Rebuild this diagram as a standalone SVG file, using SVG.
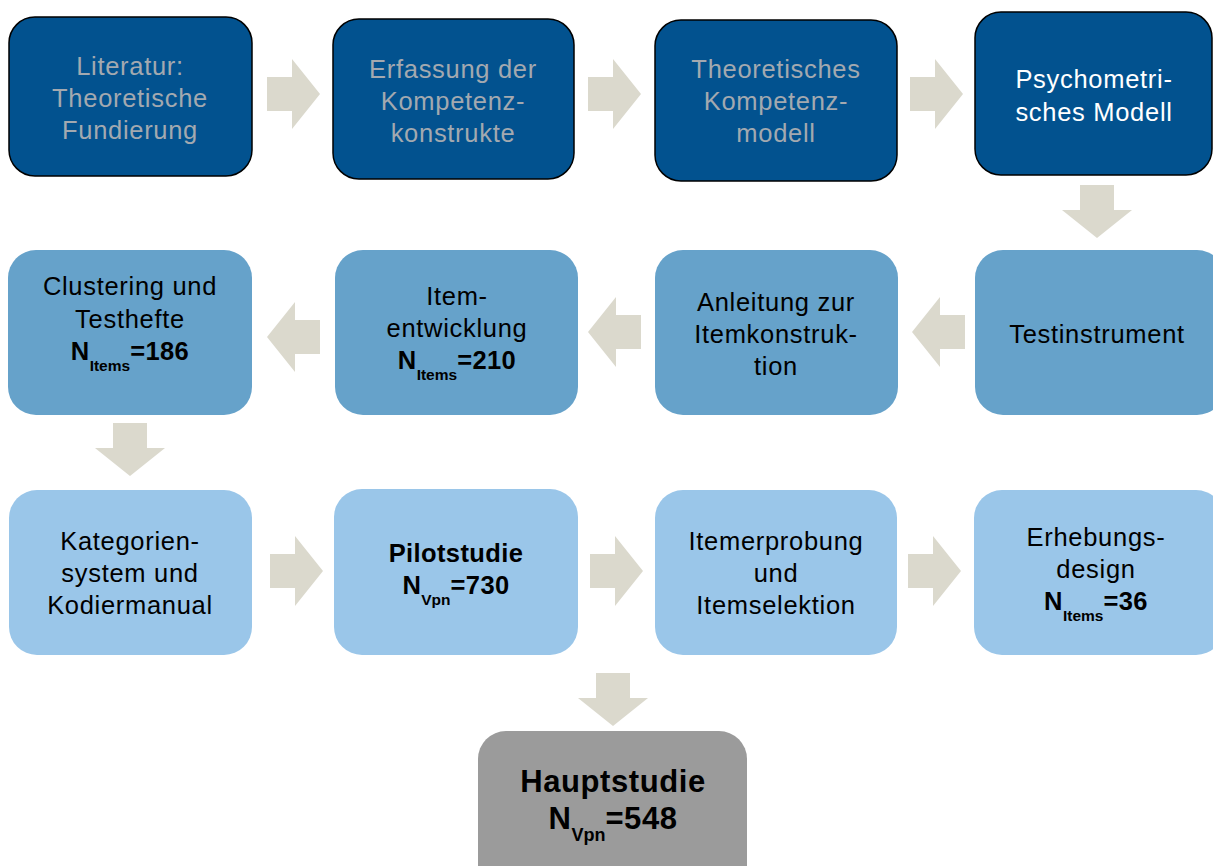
<svg xmlns="http://www.w3.org/2000/svg" width="1213" height="866" viewBox="0 0 1213 866">
  <style>
    .box-dark { fill: #02528f; stroke: #000; stroke-width: 1.5; }
    .box-mid { fill: #66a2ca; }
    .box-light { fill: #9ac6e9; }
    .box-gray { fill: #9b9b9b; }
    .arrow { fill: #dbd9cd; }
    text { font-family: "Liberation Sans", Arial, sans-serif; font-size: 25.5px; letter-spacing: 0.7px; text-anchor: middle; fill: #000; }
    .muted { fill: #a3a9b0; }
    .white { fill: #fff; }
    .b { font-weight: bold; letter-spacing: 0.4px; }
    .sub { font-size: 15.5px; font-weight: bold; letter-spacing: 0; }
    .big { font-size: 31px; font-weight: bold; letter-spacing: 0.6px; }
    .bigsub { font-size: 18px; font-weight: bold; letter-spacing: 0; }
  </style>
  <defs>
    <!-- block arrow pointing right, origin at tail centre -->
    <polygon id="arr" points="0,-17 25,-17 25,-35 53,0 25,35 25,17 0,17"/>
  </defs>
  <rect width="1213" height="866" fill="#fff"/>

  <!-- connectors -->
  <g id="connectors" class="arrow">
    <use href="#arr" x="267" y="94"/>
    <use href="#arr" x="588" y="94"/>
    <use href="#arr" x="910" y="94"/>
    <use href="#arr" transform="translate(1097,185) rotate(90)"/>
    <use href="#arr" transform="translate(965,332) rotate(180)"/>
    <use href="#arr" transform="translate(641,332) rotate(180)"/>
    <use href="#arr" transform="translate(320,337) rotate(180)"/>
    <use href="#arr" transform="translate(130,423) rotate(90)"/>
    <use href="#arr" x="270" y="571"/>
    <use href="#arr" x="590" y="571"/>
    <use href="#arr" x="908" y="571"/>
    <use href="#arr" transform="translate(613,673) rotate(90)"/>
  </g>

  <!-- row 1 -->
  <g id="literatur">
    <rect class="box-dark" x="9" y="17" width="243" height="159" rx="26"/>
    <text class="muted" x="130" y="75">Literatur:</text>
    <text class="muted" x="130" y="107">Theoretische</text>
    <text class="muted" x="130" y="139">Fundierung</text>
  </g>
  <g id="erfassung">
    <rect class="box-dark" x="333" y="19" width="241" height="160" rx="26"/>
    <text class="muted" x="453" y="78">Erfassung der</text>
    <text class="muted" x="453" y="110">Kompetenz-</text>
    <text class="muted" x="453" y="142">konstrukte</text>
  </g>
  <g id="kompetenzmodell">
    <rect class="box-dark" x="655" y="20" width="242" height="161" rx="26"/>
    <text class="muted" x="776" y="78">Theoretisches</text>
    <text class="muted" x="776" y="110">Kompetenz-</text>
    <text class="muted" x="776" y="142">modell</text>
  </g>
  <g id="psychometrisch">
    <rect class="box-dark" x="975" y="12" width="237" height="163" rx="26"/>
    <text class="white" x="1094" y="88">Psychometri-</text>
    <text class="white" x="1094" y="121">sches Modell</text>
  </g>

  <!-- row 2 -->
  <g id="testinstrument">
    <rect class="box-mid" x="975" y="250" width="250" height="165" rx="28"/>
    <text x="1097" y="343">Testinstrument</text>
  </g>
  <g id="anleitung">
    <rect class="box-mid" x="655" y="250" width="243" height="165" rx="28"/>
    <text x="776" y="311">Anleitung zur</text>
    <text x="776" y="343">Itemkonstruk-</text>
    <text x="776" y="375">tion</text>
  </g>
  <g id="itementwicklung">
    <rect class="box-mid" x="335" y="250" width="243" height="165" rx="28"/>
    <text x="457" y="305">Item-</text>
    <text x="457" y="337">entwicklung</text>
    <text class="b" x="457" y="369">N<tspan class="sub" dy="11">Items</tspan><tspan dy="-11">=210</tspan></text>
  </g>
  <g id="clustering">
    <rect class="box-mid" x="8" y="250" width="244" height="165" rx="28"/>
    <text x="130" y="295">Clustering und</text>
    <text x="130" y="328">Testhefte</text>
    <text class="b" x="130" y="360">N<tspan class="sub" dy="11">Items</tspan><tspan dy="-11">=186</tspan></text>
  </g>

  <!-- row 3 -->
  <g id="kategoriensystem">
    <rect class="box-light" x="9" y="490" width="243" height="165" rx="28"/>
    <text x="130" y="550">Kategorien-</text>
    <text x="130" y="582">system und</text>
    <text x="130" y="614">Kodiermanual</text>
  </g>
  <g id="pilotstudie">
    <rect class="box-light" x="334" y="489" width="244" height="166" rx="28"/>
    <text class="b" x="456" y="562">Pilotstudie</text>
    <text class="b" x="456" y="594">N<tspan class="sub" dy="11">Vpn</tspan><tspan dy="-11">=730</tspan></text>
  </g>
  <g id="itemerprobung">
    <rect class="box-light" x="655" y="490" width="242" height="165" rx="28"/>
    <text x="776" y="550">Itemerprobung</text>
    <text x="776" y="582">und</text>
    <text x="776" y="614">Itemselektion</text>
  </g>
  <g id="erhebungsdesign">
    <rect class="box-light" x="974" y="490" width="250" height="165" rx="28"/>
    <text x="1096" y="546">Erhebungs-</text>
    <text x="1096" y="578">design</text>
    <text class="b" x="1096" y="610">N<tspan class="sub" dy="11">Items</tspan><tspan dy="-11">=36</tspan></text>
  </g>

  <!-- final study -->
  <g id="hauptstudie">
    <rect class="box-gray" x="478" y="731" width="269" height="165" rx="28"/>
    <text class="big" x="613" y="792">Hauptstudie</text>
    <text class="big" x="613" y="829">N<tspan class="bigsub" dy="12">Vpn</tspan><tspan dy="-12">=548</tspan></text>
  </g>
</svg>
